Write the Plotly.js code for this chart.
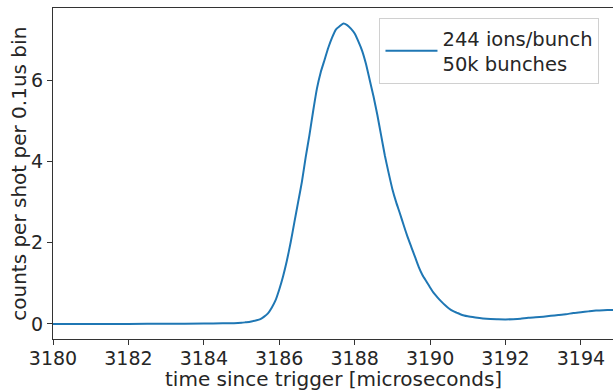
<!DOCTYPE html>
<html>
<head>
<meta charset="utf-8">
<script src="https://cdn.plot.ly/plotly-3.0.1.min.js"></script>
<style>html,body{margin:0;padding:0;background:#fff;}#chart{width:613px;height:390px;}</style>
</head>
<body>
<div id="chart"></div>
<script>
const timeUs = [3180.0, 3181.0, 3182.0, 3183.0, 3184.0, 3184.5, 3184.8, 3185.0, 3185.1, 3185.2, 3185.3, 3185.4, 3185.5, 3185.6, 3185.7, 3185.8, 3185.9,
  3186.0, 3186.1, 3186.2, 3186.3, 3186.4, 3186.5, 3186.6, 3186.7, 3186.8, 3186.9,
  3187.0, 3187.1, 3187.2, 3187.3, 3187.4, 3187.5, 3187.6, 3187.7, 3187.8, 3187.9,
  3188.0, 3188.1, 3188.2, 3188.3, 3188.4, 3188.5, 3188.6, 3188.7, 3188.8, 3188.9,
  3189.0, 3189.1, 3189.2, 3189.3, 3189.4, 3189.5, 3189.6, 3189.7, 3189.8, 3189.9,
  3190.0, 3190.1, 3190.2, 3190.3, 3190.4, 3190.5, 3190.6, 3190.7, 3190.8, 3190.9,
  3191.0, 3191.2, 3191.4, 3191.6, 3191.8, 3192.0, 3192.2, 3192.4, 3192.6, 3192.8,
  3193.0, 3193.2, 3193.4, 3193.6, 3193.8, 3194.0, 3194.2, 3194.4, 3194.6, 3194.8, 3195.0];
const countsPerBin = [0.0, 0.0, 0.0, 0.005, 0.01, 0.015, 0.02, 0.03, 0.04, 0.05, 0.07, 0.09, 0.12, 0.18, 0.26, 0.40, 0.58,
  0.85, 1.17, 1.55, 2.0, 2.5, 3.0, 3.5, 4.1, 4.65, 5.25,
  5.8, 6.2, 6.5, 6.8, 7.05, 7.25, 7.33, 7.4, 7.36, 7.27,
  7.15, 6.95, 6.72, 6.4, 6.0, 5.6, 5.15, 4.65, 4.15, 3.72,
  3.32, 3.0, 2.72, 2.43, 2.15, 1.9, 1.65, 1.4, 1.2, 1.05,
  0.9, 0.76, 0.65, 0.55, 0.46, 0.38, 0.32, 0.28, 0.24, 0.21,
  0.19, 0.16, 0.135, 0.12, 0.115, 0.112, 0.118, 0.13, 0.155, 0.165,
  0.18, 0.2, 0.22, 0.24, 0.27, 0.29, 0.31, 0.33, 0.34, 0.345, 0.35];
const seriesName = "244 ions/bunch<br>50k bunches";
const xTitle = "time since trigger [microseconds]";
const yTitle = "counts per shot per 0.1us bin";
const xTicks = [3180, 3182, 3184, 3186, 3188, 3190, 3192, 3194];
const yTicks = [0, 2, 4, 6];

const font = {family: "DejaVu Sans", size: 20, color: "#262626"};
const tickFont = {family: "DejaVu Sans", size: 19, color: "#262626"};
Plotly.newPlot("chart", [{
  x: timeUs, y: countsPerBin, type: "scatter", mode: "lines", name: seriesName,
  line: {color: "#1f77b4", width: 2, shape: "spline", smoothing: 0.5}
}], {
  width: 613, height: 390,
  margin: {l: 53, r: 0, t: 8, b: 51},
  paper_bgcolor: "#fff", plot_bgcolor: "#fff",
  font: font,
  showlegend: true,
  legend: {x: 0.583, y: 0.97, xanchor: "left", yanchor: "top", bgcolor: "rgba(255,255,255,0.8)",
    itemwidth: 52,
    bordercolor: "#d0d0d0", borderwidth: 1, font: {family: "DejaVu Sans", size: 19.5, color: "#262626"}},
  xaxis: {range: [3180, 3194.85], tickvals: xTicks, ticktext: xTicks.map(String), showgrid: false, zeroline: false,
    showline: true, linecolor: "#333", linewidth: 1, mirror: true, ticks: "outside", ticklen: 5, tickcolor: "#333",
    ticklabelstandoff: -3, tickfont: tickFont},
  yaxis: {range: [-0.37, 7.78], tickvals: yTicks, ticktext: yTicks.map(String), showgrid: false, zeroline: false,
    showline: true, linecolor: "#333", linewidth: 1, ticks: "outside", ticklen: 5, tickcolor: "#333",
    tickfont: tickFont},
  annotations: [
    {text: xTitle, xref: "paper", yref: "paper", x: 0.5, y: -0.16, xanchor: "center", yanchor: "bottom",
      borderpad: 0, showarrow: false, font: font},
    {text: yTitle, xref: "paper", yref: "paper", x: -0.062, y: 0.5, xanchor: "center", yanchor: "middle",
      borderpad: 0, textangle: -90, showarrow: false, font: font}
  ]
}, {displayModeBar: false, staticPlot: true});
</script>
</body>
</html>
